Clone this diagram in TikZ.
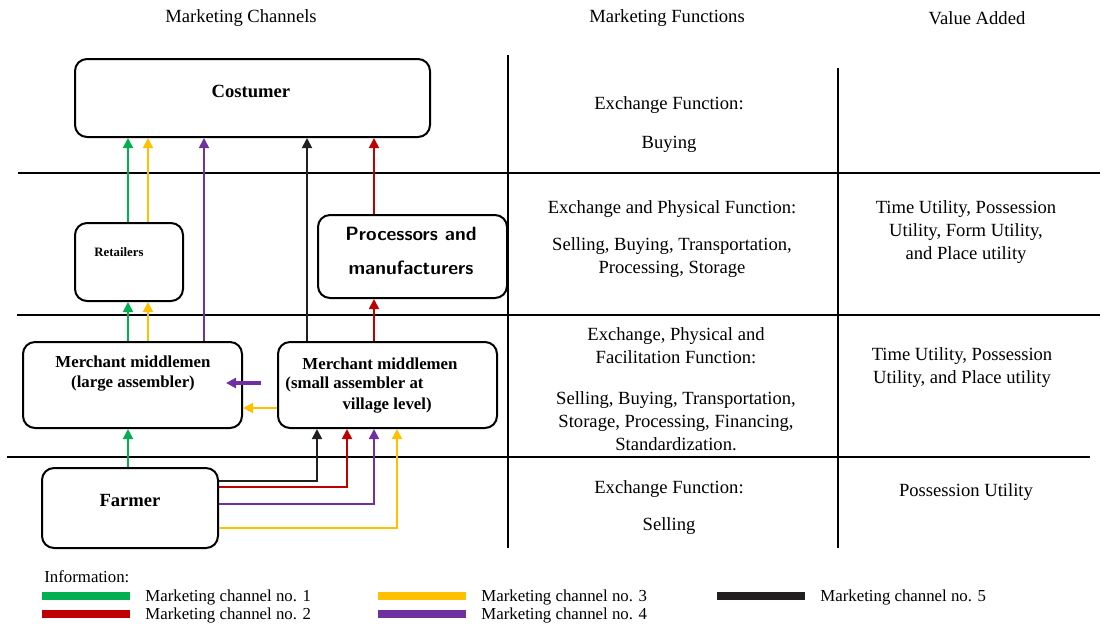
\documentclass[tikz,border=0pt]{standalone}
\usepackage{fontspec}
\setmainfont{Liberation Serif}
\usetikzlibrary{positioning,fit,arrows.meta}
\definecolor{chgreen}{HTML}{00B050}
\definecolor{chred}{HTML}{C00000}
\definecolor{chyellow}{HTML}{FFC000}
\definecolor{chpurple}{HTML}{7030A0}
\definecolor{chblack}{HTML}{231F20}

\begin{document}
\begin{tikzpicture}[x=0.5pt,y=-0.5pt,
    box/.style={draw, line width=1pt, rounded corners=6pt, inner sep=0pt},
    rule/.style={line width=1pt},
    flow/.style={line width=0.9pt, -{Triangle[length=5pt,width=5pt]}},
    txt/.style={font=\fontsize{9.3}{11.5}\selectfont, align=center, inner sep=0pt},
    lbl/.style={font=\fontsize{8.4}{10}\selectfont\bfseries, inner sep=0pt},
    leg/.style={font=\fontsize{8.4}{10}\selectfont, anchor=west, inner sep=0pt}]
    \useasboundingbox (0,0) rectangle (1111,629);

    % headings
    \node[txt] (hchan) at (241,18) {Marketing Channels};
    \node[txt] (hfunc) at (667,18) {Marketing Functions};
    \node[txt] (hval) at (977,18) {Value Added};

    % table rules
    \draw[rule] (18,173) -- (1100,173);
    \draw[rule] (17,315) -- (1100,315);
    \draw[rule] (7,457) -- (1090,457);
    \draw[rule] (508,55) -- (508,548);
    \draw[rule] (838,68) -- (838,548);

    % channel boxes
    \node[box, fit={(75,59)(430,137)}] (cost) {};
    \node[box, fit={(75,223)(183,301)}] (ret) {};
    \node[box, fit={(318,215)(507,298)}] (proc) {};
    \node[box, fit={(23,342)(242,428)}] (mlarge) {};
    \node[box, fit={(278,342)(497,428)}] (msmall) {};
    \node[box, fit={(42,468)(218,548)}] (farm) {};

    \node[lbl, font=\fontsize{9.3}{11}\selectfont\bfseries] (tcost) at (251,91) {Costumer};
    \node[lbl, font=\fontsize{6.4}{8}\selectfont\bfseries] (tret) at (119,252) {Retailers};
    \node[lbl, font=\sffamily\fontsize{9.6}{17}\selectfont\bfseries, align=center] (tproc) at (411,251) {Processors and\\manufacturers};
    \node[lbl, align=center] (tml) at (133,374) {Merchant middlemen\\(large assembler)};
    \node[lbl] (tms1) at (380,364) {Merchant middlemen};
    \node[lbl, anchor=west] (tms2) at (285,384) {(small assembler at};
    \node[lbl, anchor=east] (tms3) at (432,406) {village level)};
    \node[lbl, font=\fontsize{9.3}{11}\selectfont\bfseries] (tfarm) at (130,500) {Farmer};

    % channel columns
    \coordinate (xg) at (128,0);
    \coordinate (xy) at (148,0);
    \coordinate (xp) at (204,0);
    \coordinate (xk) at (307,0);
    \coordinate (xr) at (374,0);
    \coordinate (fk) at (317,0);
    \coordinate (fr) at (347,0);
    \coordinate (fp) at (374,0);
    \coordinate (fy) at (397,0);

    % channel 1
    \draw[flow, chgreen] (ret.north -| xg) -- (cost.south -| xg);
    \draw[flow, chgreen] (mlarge.north -| xg) -- (ret.south -| xg);
    \draw[flow, chgreen] (farm.north -| xg) -- (mlarge.south -| xg);
    % channel 3
    \draw[flow, chyellow] (ret.north -| xy) -- (cost.south -| xy);
    \draw[flow, chyellow] (mlarge.north -| xy) -- (ret.south -| xy);
    \draw[flow, chyellow] ([yshift=-11.5pt]msmall.west) -- ([yshift=-11.5pt]mlarge.east);
    \draw[flow, chyellow] ([yshift=-10pt]farm.east) -| (msmall.south -| fy);
    % channel 4
    \draw[flow, chpurple] (mlarge.north -| xp) -- (cost.south -| xp);
    \coordinate (pstart) at (261,383);
    \coordinate (pend) at (226,383);
    \draw[flow, chpurple, line width=1.6pt] (pstart) -- (pend);
    \draw[flow, chpurple] ([yshift=2pt]farm.east) -| (msmall.south -| fp);
    % channel 5
    \draw[flow, chblack] (msmall.north -| xk) -- (cost.south -| xk);
    \draw[flow, chblack] ([yshift=13.5pt]farm.east) -| (msmall.south -| fk);
    % channel 2
    \draw[flow, chred] (proc.north -| xr) -- (cost.south -| xr);
    \draw[flow, chred] (msmall.north -| xr) -- (proc.south -| xr);
    \draw[flow, chred] ([yshift=10.5pt]farm.east) -| (msmall.south -| fr);

    % marketing functions
    \node[txt] (f1a) at (669,105) {Exchange Function:};
    \node[txt] (f1b) at (669,144) {Buying};
    \node[txt] (f2a) at (672,209) {Exchange and Physical Function:};
    \node[txt] (f2b) at (672,258) {Selling, Buying, Transportation,\\Processing, Storage};
    \node[txt] (f3a) at (676,346) {Exchange, Physical and\\Facilitation Function:};
    \node[txt] (f3b) at (676,421) {Selling, Buying, Transportation,\\Storage, Processing, Financing,\\Standardization.};
    \node[txt] (f4a) at (669,489) {Exchange Function:};
    \node[txt] (f4b) at (669,526) {Selling};

    % value added
    \node[txt] (v2) at (966,232) {Time Utility, Possession\\Utility, Form Utility,\\and Place utility};
    \node[txt] (v3) at (962,368) {Time Utility, Possession\\Utility, and Place utility};
    \node[txt] (v4) at (966,492) {Possession Utility};

    % legend
    \node[leg] (info) at (44,577) {Information:};
    \fill[chgreen] (42,592) rectangle (130,600);
    \fill[chred] (42,610) rectangle (130,618);
    \fill[chyellow] (378,592) rectangle (466,600);
    \fill[chpurple] (378,610) rectangle (466,618);
    \fill[chblack] (717,592) rectangle (805,600);
    \node[leg] (l1) at (145,597) {Marketing channel no. 1};
    \node[leg] (l2) at (145,615) {Marketing channel no. 2};
    \node[leg] (l3) at (481,597) {Marketing channel no. 3};
    \node[leg] (l4) at (481,615) {Marketing channel no. 4};
    \node[leg] (l5) at (820,597) {Marketing channel no. 5};
\end{tikzpicture}
\end{document}
